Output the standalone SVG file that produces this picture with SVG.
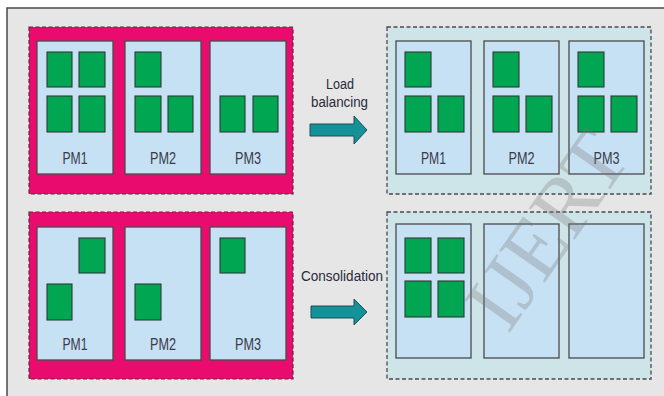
<svg xmlns="http://www.w3.org/2000/svg" width="664" height="396" viewBox="0 0 664 396">
<defs>
<style>
.frame{fill:#e6e6e6;stroke:#4a4a4a;stroke-width:1.5}
.src{fill:#e90c6e;stroke:#5a2a3a;stroke-width:1.2;stroke-dasharray:4 2.5}
.dst{fill:#cde4e8;stroke:#4a4a4a;stroke-width:1.3;stroke-dasharray:4 2.5}
.pm{fill:#c7e1f4;stroke:#4a4a4a;stroke-width:1.3}
.vm{fill:#00a651;stroke:#2f3a33;stroke-width:1.1}
.lbl{font-family:"Liberation Sans",Arial,sans-serif;font-size:16px;fill:#3a3a4a;text-anchor:middle}
.cap{font-family:"Liberation Sans",Arial,sans-serif;font-size:15.5px;fill:#2a2a3a;text-anchor:middle}
.arrow{fill:#14929a;stroke:#1f4d55;stroke-width:1}
.wm{font-family:"Liberation Serif","Times New Roman",serif;font-size:85px;fill:#7a7a7a;opacity:0.3}
</style>
</defs>
<rect x="0" y="0" width="664" height="396" fill="#ffffff"/>
<rect class="frame" x="7" y="8" width="700" height="400"/>

<g id="before-load">
<rect class="src" x="29" y="27" width="264" height="167"/>
<g id="bl-pm1">
<rect class="pm" x="37" y="41" width="76" height="133"/>
<rect class="vm" x="47" y="52" width="25" height="35"/><rect class="vm" x="79" y="52" width="26" height="35"/>
<rect class="vm" x="47" y="96" width="25" height="36"/><rect class="vm" x="79" y="96" width="26" height="36"/>
<text class="lbl" x="75" y="164" textLength="25" lengthAdjust="spacingAndGlyphs">PM1</text>
</g>
<g id="bl-pm2">
<rect class="pm" x="125" y="41" width="76" height="133"/>
<rect class="vm" x="135" y="52" width="26" height="35"/>
<rect class="vm" x="135" y="96" width="26" height="36"/><rect class="vm" x="168" y="96" width="25" height="36"/>
<text class="lbl" x="163" y="164" textLength="26" lengthAdjust="spacingAndGlyphs">PM2</text>
</g>
<g id="bl-pm3">
<rect class="pm" x="210" y="41" width="76" height="133"/>
<rect class="vm" x="220" y="96" width="25" height="36"/><rect class="vm" x="253" y="96" width="25" height="36"/>
<text class="lbl" x="248" y="164" textLength="26" lengthAdjust="spacingAndGlyphs">PM3</text>
</g>
</g>

<g id="after-load">
<rect class="dst" x="387" y="27" width="264" height="167"/>
<g id="al-pm1">
<rect class="pm" x="396" y="41" width="75" height="133"/>
<rect class="vm" x="405" y="52" width="26" height="35"/>
<rect class="vm" x="405" y="96" width="26" height="36"/><rect class="vm" x="438" y="96" width="26" height="36"/>
<text class="lbl" x="433.5" y="164" textLength="25" lengthAdjust="spacingAndGlyphs">PM1</text>
</g>
<g id="al-pm2">
<rect class="pm" x="484" y="41" width="75" height="133"/>
<rect class="vm" x="493" y="52" width="26" height="35"/>
<rect class="vm" x="493" y="96" width="26" height="36"/><rect class="vm" x="526" y="96" width="26" height="36"/>
<text class="lbl" x="521.5" y="164" textLength="26" lengthAdjust="spacingAndGlyphs">PM2</text>
</g>
<g id="al-pm3">
<rect class="pm" x="569" y="41" width="75" height="133"/>
<rect class="vm" x="578" y="52" width="26" height="35"/>
<rect class="vm" x="578" y="96" width="26" height="36"/><rect class="vm" x="611" y="96" width="26" height="36"/>
<text class="lbl" x="606.5" y="164" textLength="26" lengthAdjust="spacingAndGlyphs">PM3</text>
</g>
</g>

<g id="before-cons">
<rect class="src" x="29" y="212" width="264" height="167"/>
<g id="bc-pm1">
<rect class="pm" x="37" y="227" width="76" height="133"/>
<rect class="vm" x="79" y="238" width="26" height="35"/>
<rect class="vm" x="47" y="284" width="25" height="36"/>
<text class="lbl" x="75" y="350" textLength="25" lengthAdjust="spacingAndGlyphs">PM1</text>
</g>
<g id="bc-pm2">
<rect class="pm" x="125" y="227" width="76" height="133"/>
<rect class="vm" x="135" y="284" width="26" height="36"/>
<text class="lbl" x="163" y="350" textLength="26" lengthAdjust="spacingAndGlyphs">PM2</text>
</g>
<g id="bc-pm3">
<rect class="pm" x="210" y="227" width="76" height="133"/>
<rect class="vm" x="220" y="238" width="25" height="35"/>
<text class="lbl" x="248" y="350" textLength="26" lengthAdjust="spacingAndGlyphs">PM3</text>
</g>
</g>

<g id="after-cons">
<rect class="dst" x="387" y="212" width="264" height="167"/>
<g id="ac-pm1">
<rect class="pm" x="396" y="224" width="75" height="134"/>
<rect class="vm" x="405" y="238" width="26" height="35"/><rect class="vm" x="438" y="238" width="26" height="35"/>
<rect class="vm" x="405" y="281" width="26" height="36"/><rect class="vm" x="438" y="281" width="26" height="36"/>
</g>
<g id="ac-pm2"><rect class="pm" x="484" y="224" width="75" height="134"/></g>
<g id="ac-pm3"><rect class="pm" x="569" y="224" width="75" height="134"/></g>
</g>

<g id="connectors">
<g id="load-balancing">
<path class="arrow" d="M310,124 H354 V116 L367,130 L354,144 V136 H310 Z"/>
<text class="cap" x="340" y="89" textLength="28" lengthAdjust="spacingAndGlyphs">Load</text>
<text class="cap" x="339.5" y="107" textLength="57" lengthAdjust="spacingAndGlyphs">balancing</text>
</g>
<g id="consolidation">
<path class="arrow" d="M311,306 H354 V299 L367,312 L354,325 V318 H311 Z"/>
<text class="cap" x="342" y="281" textLength="82" lengthAdjust="spacingAndGlyphs">Consolidation</text>
</g>
</g>

<text class="wm" transform="translate(508,335) rotate(-55)">IJERT</text>
</svg>
